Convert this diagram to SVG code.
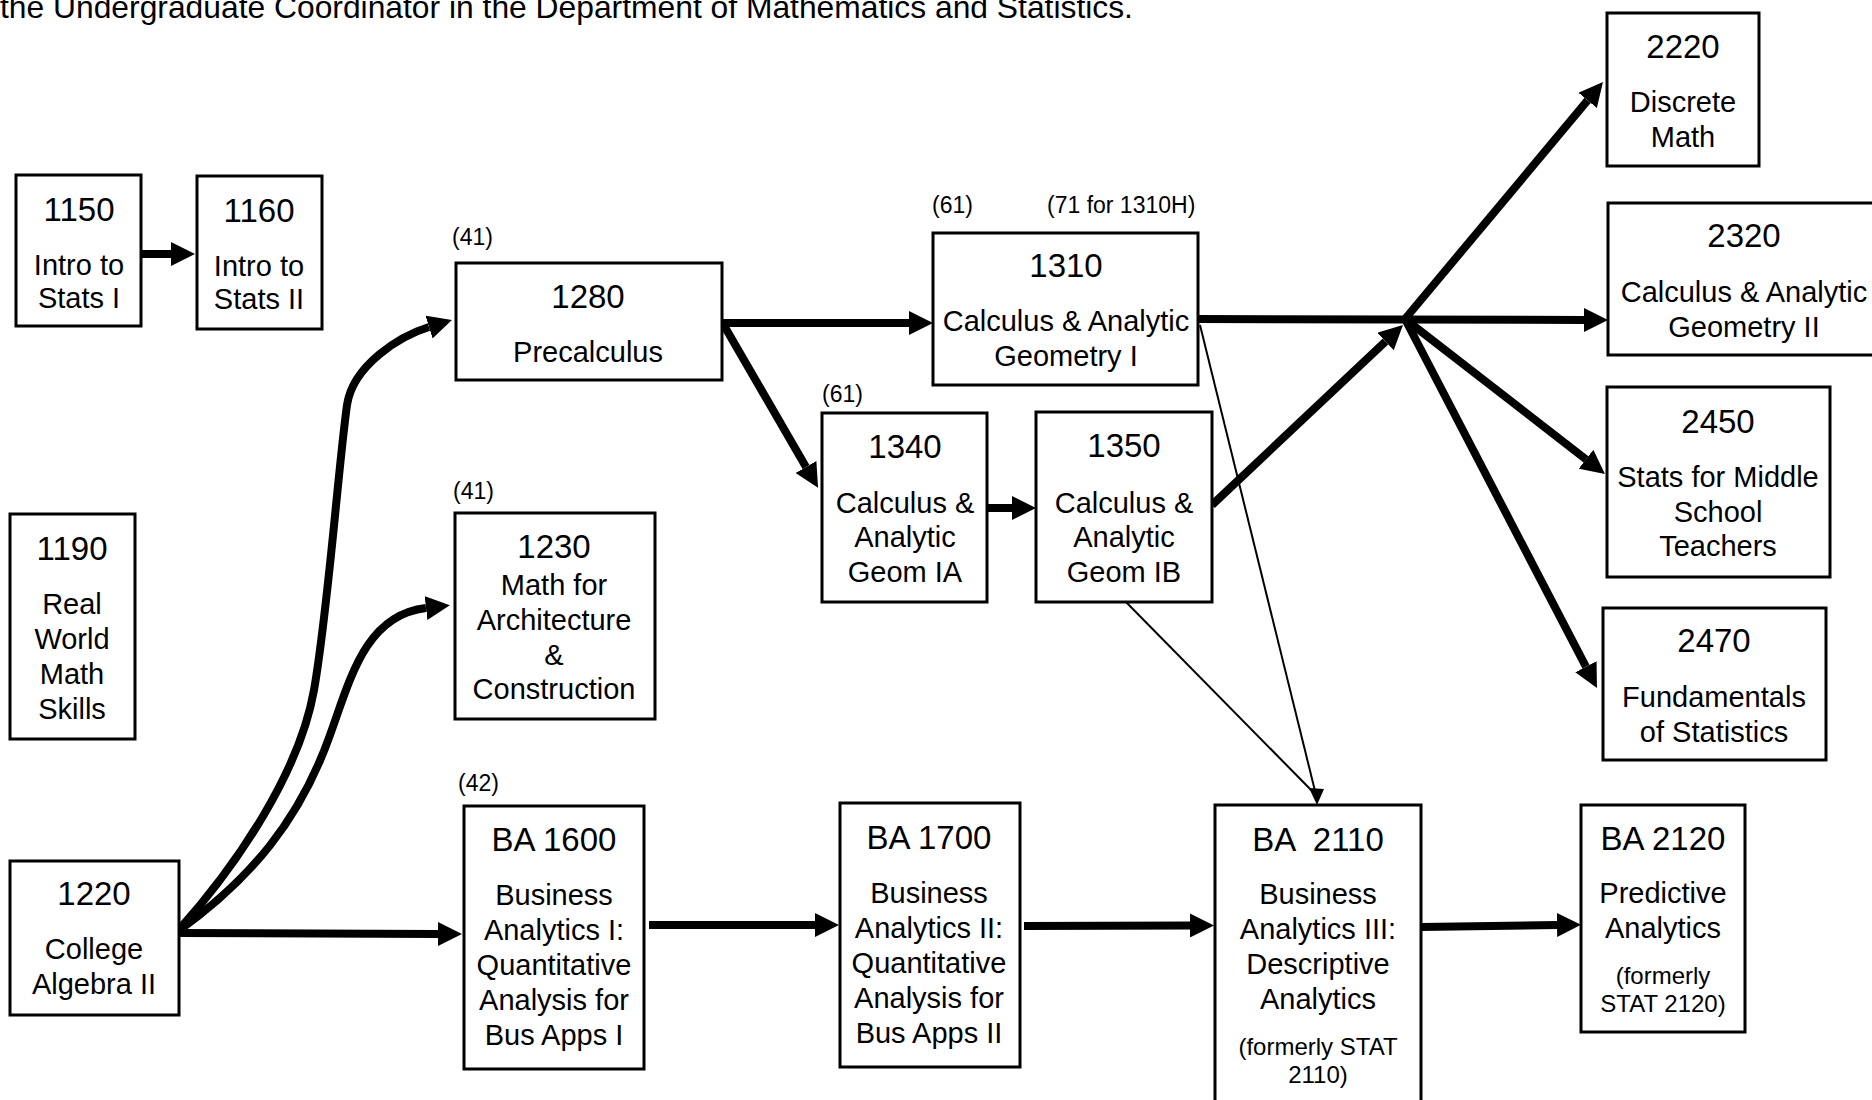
<svg xmlns="http://www.w3.org/2000/svg" width="1872" height="1100" viewBox="0 0 1872 1100">
<style>
.box{fill:#fff;stroke:#000;stroke-width:3}
text{font-family:"Liberation Sans",Arial,sans-serif;fill:#000;text-anchor:middle}
.t{font-size:33px}
.b{font-size:29px}
.s{font-size:23px;text-anchor:start}
.f{font-size:24px}
.thick{fill:none;stroke:#000;stroke-width:8}
.thin{fill:none;stroke:#000;stroke-width:2}
</style>
<defs>
<marker id="ah" markerUnits="userSpaceOnUse" markerWidth="24" markerHeight="24" viewBox="0 0 24 24" refX="0" refY="12" orient="auto"><path d="M0,0 L24,12 L0,24 Z" fill="#000"/></marker>
</defs>
<rect x="0" y="0" width="1872" height="1100" fill="#fff"/>
<text x="0" y="18" style="text-anchor:start;font-size:31.8px">the Undergraduate Coordinator in the Department of Mathematics and Statistics.</text>

<g id="connectors">
<line class="thick" x1="141" y1="254" x2="171" y2="254" marker-end="url(#ah)"/>
<path class="thick" d="M177,932 C240,862 300,770 314,690 C328,610 338,470 347,405 C353,365 400,336 429,327" marker-end="url(#ah)"/>
<path class="thick" d="M177,932 C250,880 300,820 330,735 C350,680 365,615 426,608" marker-end="url(#ah)"/>
<line class="thick" x1="177" y1="933" x2="438" y2="934" marker-end="url(#ah)"/>
<line class="thick" x1="722" y1="323" x2="909" y2="323" marker-end="url(#ah)"/>
<line class="thick" x1="722" y1="322" x2="806" y2="467" marker-end="url(#ah)"/>
<line class="thick" x1="987" y1="508" x2="1012" y2="508" marker-end="url(#ah)"/>
<line class="thick" x1="1212" y1="505" x2="1385.5" y2="341.5" marker-end="url(#ah)"/>
<line class="thick" x1="1198" y1="319" x2="1584" y2="320" marker-end="url(#ah)"/>
<line class="thick" x1="1405" y1="319" x2="1587.6" y2="100.4" marker-end="url(#ah)"/>
<line class="thick" x1="1405" y1="319" x2="1586" y2="459.3" marker-end="url(#ah)"/>
<line class="thick" x1="1405" y1="319" x2="1585.9" y2="666.7" marker-end="url(#ah)"/>
<line class="thin" x1="1200" y1="325" x2="1316" y2="795"/>
<line class="thin" x1="1125" y1="601" x2="1316" y2="795"/>
<polygon points="1309,788 1324,789 1317,805" fill="#000"/>
<line class="thick" x1="649" y1="925" x2="815" y2="925" marker-end="url(#ah)"/>
<line class="thick" x1="1024" y1="926" x2="1190" y2="925.5" marker-end="url(#ah)"/>
<line class="thick" x1="1421" y1="927" x2="1557" y2="925" marker-end="url(#ah)"/>
</g>

<g id="n1150">
<rect class="box" x="16" y="175" width="125" height="151"/>
<text class="t" x="79" y="221">1150</text>
<text class="b" x="79" y="275">Intro to</text>
<text class="b" x="79" y="308">Stats I</text>
</g>
<g id="n1160">
<rect class="box" x="197" y="176" width="125" height="153"/>
<text class="t" x="259" y="222">1160</text>
<text class="b" x="259" y="276">Intro to</text>
<text class="b" x="259" y="309">Stats II</text>
</g>
<g id="n1190">
<rect class="box" x="10" y="514" width="125" height="225"/>
<text class="t" x="72" y="560">1190</text>
<text class="b" x="72" y="614">Real</text>
<text class="b" x="72" y="649">World</text>
<text class="b" x="72" y="684">Math</text>
<text class="b" x="72" y="719">Skills</text>
</g>
<g id="n1220">
<rect class="box" x="10" y="861" width="169" height="154"/>
<text class="t" x="94" y="905">1220</text>
<text class="b" x="94" y="959">College</text>
<text class="b" x="94" y="994">Algebra II</text>
</g>
<g id="n1230">
<text class="s" x="453" y="499">(41)</text>
<rect class="box" x="455" y="513" width="200" height="206"/>
<text class="t" x="554" y="558">1230</text>
<text class="b" x="554" y="595">Math for</text>
<text class="b" x="554" y="630">Architecture</text>
<text class="b" x="554" y="665">&amp;</text>
<text class="b" x="554" y="699">Construction</text>
</g>
<g id="n1280">
<text class="s" x="452" y="245">(41)</text>
<rect class="box" x="456" y="263" width="266" height="117"/>
<text class="t" x="588" y="308">1280</text>
<text class="b" x="588" y="362">Precalculus</text>
</g>
<g id="n1310">
<text class="s" x="932" y="213">(61)</text>
<text class="s" x="1047" y="213">(71 for 1310H)</text>
<rect class="box" x="933" y="233" width="265" height="152"/>
<text class="t" x="1066" y="277">1310</text>
<text class="b" x="1066" y="331">Calculus &amp; Analytic</text>
<text class="b" x="1066" y="366">Geometry I</text>
</g>
<g id="n1340">
<text class="s" x="822" y="402">(61)</text>
<rect class="box" x="822" y="413" width="165" height="189"/>
<text class="t" x="905" y="458">1340</text>
<text class="b" x="905" y="513">Calculus &amp;</text>
<text class="b" x="905" y="547">Analytic</text>
<text class="b" x="905" y="582">Geom IA</text>
</g>
<g id="n1350">
<rect class="box" x="1036" y="412" width="176" height="190"/>
<text class="t" x="1124" y="457">1350</text>
<text class="b" x="1124" y="513">Calculus &amp;</text>
<text class="b" x="1124" y="547">Analytic</text>
<text class="b" x="1124" y="582">Geom IB</text>
</g>
<g id="n2220">
<rect class="box" x="1607" y="13" width="152" height="153"/>
<text class="t" x="1683" y="58">2220</text>
<text class="b" x="1683" y="112">Discrete</text>
<text class="b" x="1683" y="147">Math</text>
</g>
<g id="n2320">
<rect class="box" x="1608" y="203" width="272" height="152"/>
<text class="t" x="1744" y="247">2320</text>
<text class="b" x="1744" y="302">Calculus &amp; Analytic</text>
<text class="b" x="1744" y="337">Geometry II</text>
</g>
<g id="n2450">
<rect class="box" x="1607" y="387" width="223" height="190"/>
<text class="t" x="1718" y="433">2450</text>
<text class="b" x="1718" y="487">Stats for Middle</text>
<text class="b" x="1718" y="522">School</text>
<text class="b" x="1718" y="556">Teachers</text>
</g>
<g id="n2470">
<rect class="box" x="1603" y="608" width="223" height="152"/>
<text class="t" x="1714" y="652">2470</text>
<text class="b" x="1714" y="707">Fundamentals</text>
<text class="b" x="1714" y="742">of Statistics</text>
</g>
<g id="nBA1600">
<text class="s" x="458" y="791">(42)</text>
<rect class="box" x="464" y="806" width="180" height="263"/>
<text class="t" x="554" y="851">BA 1600</text>
<text class="b" x="554" y="905">Business</text>
<text class="b" x="554" y="940">Analytics I:</text>
<text class="b" x="554" y="975">Quantitative</text>
<text class="b" x="554" y="1010">Analysis for</text>
<text class="b" x="554" y="1045">Bus Apps I</text>
</g>
<g id="nBA1700">
<rect class="box" x="840" y="803" width="180" height="264"/>
<text class="t" x="929" y="849">BA 1700</text>
<text class="b" x="929" y="903">Business</text>
<text class="b" x="929" y="938">Analytics II:</text>
<text class="b" x="929" y="973">Quantitative</text>
<text class="b" x="929" y="1008">Analysis for</text>
<text class="b" x="929" y="1043">Bus Apps II</text>
</g>
<g id="nBA2110">
<rect class="box" x="1215" y="805" width="206" height="320"/>
<text class="t" x="1318" y="851" xml:space="preserve">BA  2110</text>
<text class="b" x="1318" y="904">Business</text>
<text class="b" x="1318" y="939">Analytics III:</text>
<text class="b" x="1318" y="974">Descriptive</text>
<text class="b" x="1318" y="1009">Analytics</text>
<text class="f" x="1318" y="1055">(formerly STAT</text>
<text class="f" x="1318" y="1083">2110)</text>
</g>
<g id="nBA2120">
<rect class="box" x="1581" y="805" width="164" height="227"/>
<text class="t" x="1663" y="850">BA 2120</text>
<text class="b" x="1663" y="903">Predictive</text>
<text class="b" x="1663" y="938">Analytics</text>
<text class="f" x="1663" y="984">(formerly</text>
<text class="f" x="1663" y="1012">STAT 2120)</text>
</g>
</svg>
